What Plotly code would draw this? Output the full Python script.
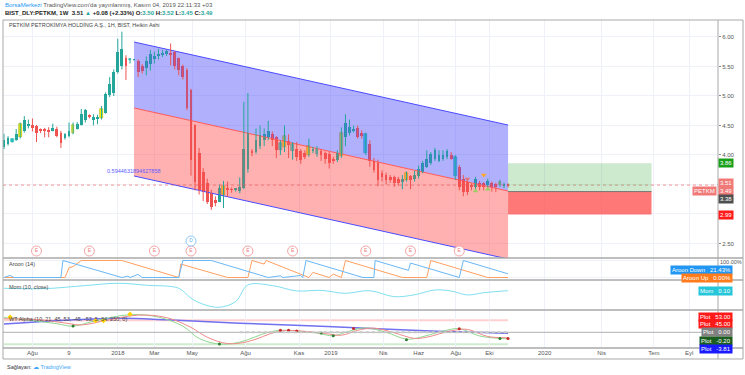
import pandas as pd
import plotly.graph_objects as go

# ---------------- data ----------------
dates = pd.date_range("2017-06-19", periods=125, freq="7D")

opens = [4.13,4.18,4.22,4.25,4.30,4.41,4.50,4.51,4.49,4.44,4.44,4.42,4.42,4.44,4.38,4.28,4.32,4.37,4.44,4.51,
         4.59,4.68,4.59,4.62,4.62,4.72,5.01,5.05,5.41,5.51,5.64,5.61,5.61,5.59,5.51,5.47,5.55,5.63,5.67,5.70,
         5.71,5.73,5.74,5.64,5.51,5.44,5.10,4.51,4.03,3.72,3.52,3.35,3.24,3.21,3.33,3.43,3.42,3.42,3.39,3.44,
         3.77,4.07,4.05,4.15,4.25,4.30,4.36,4.30,4.08,4.13,4.23,4.06,4.11,4.06,4.03,4.00,4.08,4.02,4.06,4.04,
         4.02,3.94,3.92,3.98,4.30,4.37,4.41,4.45,4.38,4.03,4.19,3.89,3.87,3.69,3.66,3.62,3.62,3.59,3.55,3.58,
         3.64,3.59,3.64,3.72,3.80,3.87,3.94,3.89,3.94,3.97,4.00,3.64,3.80,3.60,3.55,3.49,3.46,3.53,3.52,3.49,
         3.52,3.50,3.49,3.49,3.50]
highs = [4.36,4.32,4.28,4.44,4.55,4.66,4.60,4.62,4.51,4.45,4.46,4.47,4.53,4.48,4.41,4.37,4.55,4.55,4.56,4.78,
         4.78,4.69,4.69,4.68,4.83,5.06,5.32,5.45,5.97,6.09,5.69,5.64,5.62,5.62,5.54,5.67,5.78,5.75,5.80,5.78,
         5.78,5.89,5.76,5.65,5.53,5.47,5.12,4.52,4.12,3.78,3.60,3.41,3.30,3.50,3.56,3.55,3.45,3.44,3.62,4.90,
         5.05,4.10,4.45,4.50,4.45,4.58,4.40,4.32,4.25,4.50,4.35,4.22,4.22,4.10,4.08,4.28,4.14,4.15,4.10,4.06,
         4.05,3.97,4.08,4.47,4.69,4.60,4.50,4.50,4.42,4.38,4.25,3.95,3.92,3.74,3.70,3.66,3.65,3.63,3.66,3.72,
         3.66,3.73,3.82,3.90,4.08,4.05,4.12,4.08,4.08,4.10,4.05,4.00,3.83,3.66,3.58,3.52,3.63,3.56,3.54,3.60,
         3.55,3.53,3.58,3.53,3.52]
lows = [4.10,4.16,4.21,4.24,4.28,4.38,4.45,4.40,4.22,4.37,4.30,4.30,4.40,4.30,4.12,4.26,4.30,4.35,4.43,4.50,
        4.55,4.62,4.50,4.52,4.60,4.70,4.98,5.00,5.38,5.45,5.27,5.55,5.60,5.32,5.38,5.35,5.43,5.55,5.62,5.66,
        5.68,5.52,5.45,5.35,5.28,4.76,3.65,3.40,3.33,3.22,3.17,3.07,3.13,3.20,3.10,3.29,3.36,3.38,3.35,3.42,
        3.70,3.98,4.02,4.10,4.15,4.25,4.15,3.95,4.00,4.05,3.95,3.92,3.90,3.85,3.93,3.97,4.03,3.97,3.90,3.85,
        3.77,3.85,3.88,3.95,4.15,4.33,4.38,4.28,4.28,4.00,3.80,3.70,3.47,3.55,3.50,3.53,3.46,3.48,3.42,3.55,
        3.42,3.55,3.60,3.69,3.78,3.83,3.90,3.88,3.90,3.93,3.92,3.58,3.40,3.30,3.32,3.40,3.38,3.40,3.40,3.42,
        3.38,3.37,3.46,3.44,3.45]
closes = [4.26,4.29,4.27,4.35,4.52,4.59,4.51,4.46,4.37,4.42,4.42,4.40,4.45,4.32,4.21,4.35,4.41,4.51,4.53,4.69,
          4.76,4.66,4.65,4.64,4.78,5.03,5.21,5.41,5.75,5.80,5.50,5.62,5.62,5.40,5.43,5.59,5.72,5.67,5.72,5.72,
          5.76,5.70,5.51,5.44,5.33,4.79,3.92,3.55,3.41,3.38,3.21,3.11,3.18,3.44,3.47,3.41,3.41,3.42,3.46,4.10,
          4.37,4.03,4.25,4.34,4.36,4.41,4.25,4.08,4.20,4.32,4.17,4.19,3.96,3.92,3.97,4.15,4.10,4.10,4.00,3.94,
          3.86,3.90,4.03,4.37,4.55,4.48,4.43,4.31,4.32,4.36,3.89,3.75,3.58,3.62,3.58,3.59,3.53,3.52,3.60,3.69,
          3.57,3.66,3.77,3.87,3.94,4.01,4.08,4.00,4.00,4.06,3.94,3.97,3.46,3.38,3.38,3.45,3.60,3.46,3.46,3.56,
          3.45,3.45,3.55,3.51,3.49]
yellow_idx = [4, 17, 24, 54, 69, 75, 83, 99, 122]
cyan_idx = [2, 31, 68, 71, 77, 89, 111]

# regression channel (start bar, end bar) and levels
chan_bars = [32, 124]
chan_upper = [5.915, 4.508]
chan_mid = [4.797, 3.390]
chan_lower = [3.644, 2.237]
chan_label = "0.5944631894627858"

# long position tool
pos_end = "2020-07-08"
pos_target, pos_entry, pos_stop = 3.86, 3.38, 2.99
last_close = 3.49

# events
earn_bars = [8, 21, 37, 46, 60, 71, 89, 100, 112]
div_bars = [46]
tri_down_bars = [114, 118]
tri_down_vals = [3.593, 3.661]
tri_up_bars = [116, 119]
tri_up_vals = [3.39, 3.42]

# Aroon (14) vertices (bar index, %)
aroon_up_bars = [0, 15, 16, 17, 19, 29, 43, 43.5, 55, 60, 61, 64, 64.5, 75, 76, 80, 81, 83, 84, 98, 104, 105, 119, 124]
aroon_up_vals = [0, 0, 57, 64, 100, 100, 0, 79, 0, 0, 100, 79, 100, 0, 30, 0, 20, 0, 100, 0, 0, 100, 0, 0]
aroon_dn_bars = [0, 1.5, 2.5, 14, 14.5, 29, 30.5, 31, 33, 34, 43, 44, 51, 65, 68, 68.6, 73, 73.5, 74.3, 88.3,
                 91, 91.3, 99.5, 100, 112, 113, 124]
aroon_dn_vals = [0, 12, 0, 0, 100, 0, 8, 0, 18, 0, 0, 100, 100, 0, 10, 0, 12, 0, 100, 0,
                 0, 100, 42, 85, 0, 100, 21.43]

# Momentum (10, close) vertices
mom_bars = [0, 10, 20, 28, 35, 43, 46, 49, 53, 57, 60, 66, 72, 78, 84, 90, 96, 101, 106, 110, 114, 118, 124]
mom_vals = [0.45, 0.40, 0.85, 1.19, 0.90, 0.45, -1.0, -1.9, -2.34, -1.5, 0.94, 0.85, 0.06, 0.15, -0.29, 0.1, -0.78, -0.5, 0.2, 0.05, -0.53, -0.2, 0.10]

# WT Alpha vertices
wt_slow_bars = [0, 28, 40, 58, 81, 105, 124]
wt_slow_vals = [34, 57, 51, 37, 23, 5, -3.81]
wt_g_bars = [0, 6, 13, 17, 22, 31, 38, 44, 48, 53, 58, 65, 68, 72, 77, 81, 85, 89, 94, 99, 102, 108, 112, 117, 124]
wt_g_vals = [60, 50, 35, 25, 45, 72, 62, 25, -25, -48, -40, 0, 8, 5, -3, -14, 5, 18, 0, -28, -22, 5, 15, -15, -27]
wt_r_bars = [0, 8, 15, 19, 25, 33, 40, 46, 50, 55, 60, 67, 70, 74, 79, 83, 87, 91, 96, 101, 104, 110, 114, 119, 124]
wt_r_vals = [55, 52, 38, 30, 48, 70, 60, 20, -20, -46, -38, 2, 8, 4, -5, -12, 8, 17, -2, -25, -20, 6, 12, -17, -22]
wt_levels = [53, 45, -45, -53]
wt_dot_bars = [17, 53, 68, 70, 72, 78, 81, 86, 99, 112, 122, 124]
wt_dot_vals = [26, -48, 8, 8, 5, -3, -14, 15, -30, 14, -25, -25]
wt_dot_cols = ["#2e7d32", "#2e7d32", "#c62828", "#c62828", "#c62828", "#2e7d32", "#2e7d32", "#c62828",
               "#2e7d32", "#c62828", "#2e7d32", "#c62828"]
wt_star_bars = [1.5, 22.5, 24.5, 31]
wt_star_vals = [62, 47, 47, 74]

# time axis labels
tick_dates = ["2017-08-07", "2017-10-09", "2018-01-01", "2018-03-05", "2018-05-09", "2018-08-09",
              "2018-11-09", "2019-01-03", "2019-04-03", "2019-06-03", "2019-08-06", "2019-10-03",
              "2020-01-06", "2020-04-13", "2020-07-12", "2020-09-11"]
tick_text = ["Ağu", "9", "2018", "Mar", "May", "Ağu", "Kas", "2019", "Nis", "Haz", "Ağu", "Eki",
             "2020", "Nis", "Tem", "Eyl"]

# ---------------- figure ----------------
FONT = "Liberation Sans, Arial, sans-serif"
TEAL, RED, YEL, CYA = "#26a69a", "#ef5350", "#ffff00", "#2ee6e6"
D = lambda i: dates[0] + pd.Timedelta(days=7 * i)

fig = go.Figure()

# channel fills
d0, d1 = D(chan_bars[0]), D(chan_bars[1])
fig.add_trace(go.Scatter(x=[d0, d1, d1, d0, d0], y=[chan_upper[0], chan_upper[1], chan_mid[1], chan_mid[0], chan_upper[0]],
                         fill="toself", fillcolor="rgba(80,80,250,0.45)", line=dict(width=0), mode="lines",
                         hoverinfo="skip", yaxis="y"))
fig.add_trace(go.Scatter(x=[d0, d1, d1, d0, d0], y=[chan_mid[0], chan_mid[1], chan_lower[1], chan_lower[0], chan_mid[0]],
                         fill="toself", fillcolor="rgba(255,80,80,0.45)", line=dict(width=0), mode="lines",
                         hoverinfo="skip", yaxis="y"))
for ys, col in [(chan_upper, "#4a4aff"), (chan_mid, "#ff5a5a"), (chan_lower, "#4a4aff")]:
    fig.add_trace(go.Scatter(x=[d0, d1], y=ys, mode="lines", line=dict(color=col, width=1), hoverinfo="skip"))

# candles grouped by colour
groups = {"u": [], "d": [], "y": [], "c": []}
for i in range(len(dates)):
    if i in yellow_idx:
        groups["y"].append(i)
    elif i in cyan_idx:
        groups["c"].append(i)
    elif closes[i] >= opens[i]:
        groups["u"].append(i)
    else:
        groups["d"].append(i)
gcol = {"u": TEAL, "d": RED, "y": YEL, "c": CYA}
gline = {"u": TEAL, "d": RED, "y": "#a8a800", "c": "#1aa9a9"}
wick_col = {"u": TEAL, "d": RED, "y": TEAL, "c": TEAL}
BW = 7 * 86400000 * 0.68
for g, idx in groups.items():
    wx, wy = [], []
    for i in idx:
        wx += [D(i), D(i), None]
        wy += [lows[i], highs[i], None]
    fig.add_trace(go.Scatter(x=wx, y=wy, mode="lines", line=dict(color=wick_col[g], width=1), hoverinfo="skip"))
for g, idx in groups.items():
    fig.add_trace(go.Bar(x=[D(i) for i in idx],
                         y=[max(abs(closes[i] - opens[i]), 0.012) for i in idx],
                         base=[min(opens[i], closes[i]) for i in idx],
                         width=BW, marker=dict(color=gcol[g], line=dict(color=gline[g], width=0.6 if g in "yc" else 0)),
                         hoverinfo="skip"))

# triangles
fig.add_trace(go.Scatter(x=[D(i) for i in tri_down_bars], y=tri_down_vals, mode="markers",
                         marker=dict(symbol="triangle-down", size=5, color=["#e57373", "#ffa726"]), hoverinfo="skip"))
fig.add_trace(go.Scatter(x=[D(i) for i in tri_up_bars], y=tri_up_vals, mode="markers",
                         marker=dict(symbol="triangle-up", size=5, color="#9ccc65"), hoverinfo="skip"))

# earnings / dividends
fig.add_trace(go.Scatter(x=[D(i) for i in earn_bars], y=[2.373] * len(earn_bars), mode="markers+text",
                         text=["E"] * len(earn_bars), textposition="middle center",
                         textfont=dict(size=5, color="#f08080", family=FONT),
                         marker=dict(symbol="circle", size=10, color="white", line=dict(color="#f5a5a5", width=1)),
                         hoverinfo="skip"))
fig.add_trace(go.Scatter(x=[D(i) for i in div_bars], y=[2.542] * len(div_bars), mode="markers+text",
                         text=["D"] * len(div_bars), textposition="middle center",
                         textfont=dict(size=5, color="#64b5f6", family=FONT),
                         marker=dict(symbol="circle", size=10, color="white", line=dict(color="#90caf9", width=1)),
                         hoverinfo="skip"))

# Aroon
fig.add_trace(go.Scatter(x=[D(i) for i in aroon_up_bars], y=aroon_up_vals, mode="lines", yaxis="y2",
                         line=dict(color="#ffa062", width=1), hoverinfo="skip"))
fig.add_trace(go.Scatter(x=[D(i) for i in aroon_dn_bars], y=aroon_dn_vals, mode="lines", yaxis="y2",
                         line=dict(color="#6ab7f5", width=1), hoverinfo="skip"))
# Momentum
fig.add_trace(go.Scatter(x=[D(i) for i in mom_bars], y=mom_vals, mode="lines", yaxis="y3",
                         line=dict(color="#7fdfef", width=1, shape="spline"), hoverinfo="skip"))
# WT Alpha
fig.add_trace(go.Scatter(x=[D(i) for i in wt_slow_bars], y=wt_slow_vals, mode="lines", yaxis="y4",
                         line=dict(color="#7070f0", width=1.5, shape="spline"), hoverinfo="skip"))
fig.add_trace(go.Scatter(x=[D(i) for i in wt_g_bars], y=wt_g_vals, mode="lines", yaxis="y4",
                         line=dict(color="#90d890", width=1, shape="spline"), hoverinfo="skip"))
fig.add_trace(go.Scatter(x=[D(i) for i in wt_r_bars], y=wt_r_vals, mode="lines", yaxis="y4",
                         line=dict(color="#f08a8a", width=1, shape="spline"), hoverinfo="skip"))
fig.add_trace(go.Scatter(x=[D(i) for i in wt_dot_bars], y=wt_dot_vals, mode="markers", yaxis="y4",
                         marker=dict(size=3, color=wt_dot_cols), hoverinfo="skip"))
fig.add_trace(go.Scatter(x=[D(i) for i in wt_star_bars], y=wt_star_vals, mode="markers", yaxis="y4",
                         marker=dict(size=4, symbol="diamond", color="#ffd400"), hoverinfo="skip"))

x_start = dates[0] - pd.Timedelta(days=1.7)
x_end = dates[0] + pd.Timedelta(days=1229.5)

shapes = []
# WT bands
shapes.append(dict(type="rect", xref="x", yref="y4", x0=dates[0], x1=dates[-1], y0=wt_levels[1], y1=wt_levels[0],
                   fillcolor="rgba(255,120,120,0.35)", line=dict(width=0), layer="below"))
shapes.append(dict(type="rect", xref="x", yref="y4", x0=dates[0], x1=dates[-1], y0=wt_levels[3], y1=wt_levels[2],
                   fillcolor="rgba(120,200,120,0.35)", line=dict(width=0), layer="below"))
shapes.append(dict(type="line", xref="paper", yref="y4", x0=0, x1=1, y0=0, y1=0, line=dict(color="#b0b0b0", width=1)))
shapes.append(dict(type="line", xref="x", yref="y4", x0=D(58), x1=dates[-1], y0=0, y1=0,
                   line=dict(color="#c8c8c8", width=2, dash="dot")))
# price line
shapes.append(dict(type="line", xref="paper", yref="y", x0=0, x1=1, y0=last_close, y1=last_close,
                   line=dict(color="rgba(239,83,80,0.6)", width=1, dash="dot")))
# position tool
shapes.append(dict(type="rect", xref="x", yref="y", x0=dates[-1], x1=pos_end, y0=pos_entry, y1=pos_target,
                   fillcolor="rgba(76,175,80,0.28)", line=dict(width=0)))
shapes.append(dict(type="rect", xref="x", yref="y", x0=dates[-1], x1=pos_end, y0=pos_stop, y1=pos_entry,
                   fillcolor="rgba(255,82,82,0.78)", line=dict(width=0)))
shapes.append(dict(type="line", xref="x", yref="y", x0=dates[-1], x1=pos_end, y0=pos_entry, y1=pos_entry,
                   line=dict(color="#777", width=1)))
# panes / frame
RX = 1.035
BOT = -0.0335
for yy in [0.2744, 0.2073, 0.1159, 0.0]:
    shapes.append(dict(type="line", xref="paper", yref="paper", x0=0, x1=RX, y0=yy, y1=yy,
                       line=dict(color="#a9a9a9", width=1.3)))
shapes.append(dict(type="rect", xref="paper", yref="paper", x0=0, x1=RX, y0=BOT, y1=1,
                   line=dict(color="#a9a9a9", width=1)))
shapes.append(dict(type="line", xref="paper", yref="paper", x0=1, x1=1, y0=BOT, y1=1,
                   line=dict(color="#a9a9a9", width=1)))

ann = []
def lab(y, text, bg, yref="y", yshift=0, x=1.0, xanchor="left", fc="white"):
    ann.append(dict(x=x, xref="paper", y=y, yref=yref, text=text, showarrow=False, xanchor=xanchor,
                    yanchor="middle", yshift=yshift, bgcolor=bg, borderpad=1,
                    font=dict(size=6, color=fc, family=FONT)))

lab(pos_target, "3.86", "#1a9f1a")
lab(3.51, "3.51", "#f07a78", yshift=1)
lab(last_close, "3.49", "#f07a78", yshift=-6)
lab(last_close, "PETKM", "#f07a78", yshift=-6, x=0.9985, xanchor="right")
lab(pos_entry, "3.38", "#4f4f4f", yshift=-7.5)
lab(pos_stop, "2.99", "#ff1a1a")

# indicator value labels
lab(21.43, "Aroon Down   21.43%", "#2196f3", yref="y2", yshift=4, x=1.021, xanchor="right")
lab(0, "Aroon Up   0.00%", "#ff7b1c", yref="y2", yshift=0, x=1.021, xanchor="right")
lab(0.10, "Mom   0.10", "#26c6da", yref="y3", x=1.021, xanchor="right")
lab(53, "Plot   53.00", "#ff1a1a", yref="y4", yshift=2, x=1.021, xanchor="right")
lab(45, "Plot   45.00", "#ff1a1a", yref="y4", yshift=-3, x=1.021, xanchor="right")
lab(0, "Plot   0.00", "#808080", yref="y4", yshift=0, x=1.021, xanchor="right")
lab(-0.2, "Plot   -0.20", "#1b5e20", yref="y4", yshift=-9, x=1.021, xanchor="right")
lab(-3.81, "Plot   -3.81", "#1a1aff", yref="y4", yshift=-16, x=1.021, xanchor="right")

def txt(x, y, text, size=6, color="#333", xanchor="left", xref="paper", yref="paper", bold=False):
    ann.append(dict(x=x, y=y, xref=xref, yref=yref, text=("<b>%s</b>" % text) if bold else text, showarrow=False,
                    xanchor=xanchor, yanchor="middle", font=dict(size=size, color=color, family=FONT)))

txt(0.0, 1.0457, "<span style='color:#2196f3'>BorsaMerkezi</span> TradingView.com'da yayınlanmış, Kasım 04, 2019 22:11:33 +03", size=6, color="#555")
txt(0.0, 1.0213, "BIST_DLY:PETKM, 1W  3.51 <span style='color:#26a69a'>▲</span> +0.08 (+2.33%) O:<span style='color:#26a69a'>3.50</span> H:<span style='color:#26a69a'>3.52</span> L:<span style='color:#26a69a'>3.45</span> C:<span style='color:#26a69a'>3.49</span>", size=6, color="#222", bold=True)
txt(0.006, 0.985, "PETKİM PETROKİMYA HOLDİNG A.Ş., 1H, BIST, Heikin Ashi", size=5.5, color="#444")
txt(0.006, 0.255, "Aroon (14)", size=5.5, color="#444")
txt(0.006, 0.186, "Mom (10, close)", size=5.5, color="#444")
txt(0.006, 0.088, "WT Alpha (10, 21, 45, 53, -45, -53, 5, 34, 250, 0)", size=5.5, color="#444")
txt(0.003, -0.058, "Sağlayan: <span style='color:#42a5f5'>☁ TradingView</span>", size=5.5, color="#333")
txt(d0, chan_lower[0], chan_label, size=5.5, color="#5c5cff", xanchor="center", xref="x", yref="y")
ann[-1]["yshift"] = 5
txt(1.0, 0.2622, "100.00%", size=5.5, color="#555")

fig.update_layout(
    width=745, height=375, margin=dict(l=3, r=27, t=20, b=27),
    paper_bgcolor="white", plot_bgcolor="white", showlegend=False, barmode="overlay", bargap=0,
    font=dict(family=FONT, size=6, color="#555"),
    xaxis=dict(type="date", range=[x_start, x_end], anchor="y4", tickvals=tick_dates, ticktext=tick_text,
               showgrid=True, gridcolor="#eef1f7", gridwidth=1, zeroline=False, showline=False,
               ticks="", tickfont=dict(size=6, color="#555", family=FONT), fixedrange=True),
    yaxis=dict(domain=[0.2744, 1], range=[2.254, 6.288], side="right", tickvals=[2.5, 3.0, 3.5, 4.0, 4.5, 5.0, 5.5, 6.0],
               ticktext=["2.50", "", "", "4.00", "4.50", "5.00", "5.50", "6.00"], ticks="outside", ticklen=2,
               tickcolor="#888", showgrid=True, gridcolor="#eef1f7", zeroline=False,
               tickfont=dict(size=6, color="#555", family=FONT)),
    yaxis2=dict(domain=[0.2073, 0.2744], range=[-14.7, 114.7], side="right", showticklabels=False,
                tickvals=[0, 100], showgrid=True, gridcolor="#eef1f7", zeroline=False),
    yaxis3=dict(domain=[0.1159, 0.2073], range=[-2.74, 1.67], side="right", showticklabels=False,
                showgrid=False, zeroline=False),
    yaxis4=dict(domain=[0, 0.1159], range=[-64, 91], side="right", showticklabels=False,
                showgrid=False, zeroline=False),
    shapes=shapes, annotations=ann,
)
fig.write_html("out.html", config={"displayModeBar": False},
               post_script="document.body.style.margin='0';document.body.style.overflow='hidden';")
